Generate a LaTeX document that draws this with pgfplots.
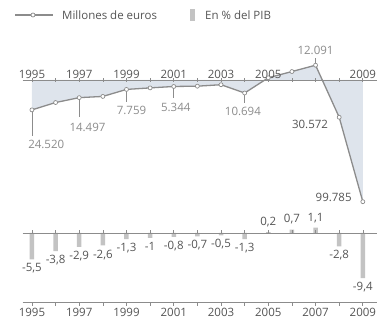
\documentclass[border=0pt]{standalone}
\usepackage{pgfplots}
\pgfplotsset{compat=1.18}
\usepackage{fontspec}
\setmainfont{Open Sans}
\definecolor{txt}{RGB}{85,85,85}
\definecolor{linec}{RGB}{140,140,140}
\definecolor{areac}{RGB}{222,228,236}
\definecolor{barc}{RGB}{195,195,195}
\newcommand{\lf}{\fontsize{11.5bp}{13bp}\selectfont}
\begin{document}
\begin{tikzpicture}[font=\lf, text=txt]
\useasboundingbox (0,0) rectangle (377bp,318bp);
% legend
\draw[linec, line width=1.2bp] (15bp,303bp) -- (53bp,303bp);
\draw[linec, fill=white, line width=0.7bp] (33bp,303bp) circle (2bp);
\node[anchor=west, inner sep=0] at (62bp,303bp) {Millones de euros};
\fill[barc] (190bp,297bp) rectangle (195bp,309bp);
\node[anchor=west, inner sep=0] at (205bp,303bp) {En \% del PIB};

\begin{axis}[at={(22.5bp,113.6bp)}, anchor=south west, scale only axis,
  width=354.5bp, height=161.04bp,
  xmin=1994.6, xmax=2009.6, ymin=-102000, ymax=30000,
  axis x line*=middle, axis y line=none,
  axis line style={linec, line width=0.8bp},
  xtick={1995,1996,1997,1998,1999,2000,2001,2002,2003,2004,2005,2006,2007,2008,2009},
  xticklabels={1995,,1997,,1999,,2001,,2003,,2005,,,,2009},
  xticklabel style={anchor=south, text=txt, font=\lf},
  tick align=center, major tick length=4bp, tick style={linec, line width=0.7bp},
  axis on top, clip=false]
\addplot[fill=areac, draw=none] table {
x y
1995 -24520
1996 -18500
1997 -14497
1998 -13500
1999 -7759
2000 -6500
2001 -5344
2002 -5100
2003 -3900
2004 -10694
2005 1800
2006 6900
2007 12091
2008 -30572
2009 -99785
} \closedcycle;
\addplot[linec, line width=1.3bp, mark=*, mark size=2bp,
  mark options={fill=white, draw=linec, line width=0.7bp}] table {
x y
1995 -24520
1996 -18500
1997 -14497
1998 -13500
1999 -7759
2000 -6500
2001 -5344
2002 -5100
2003 -3900
2004 -10694
2005 1800
2006 6900
2007 12091
2008 -30572
2009 -99785
};
\draw[linec, line width=0.6bp] (axis cs:1995,-24520) -- ++(0pt,-26bp)
  node[anchor=north west, inner sep=0pt, xshift=-4bp, yshift=-4bp] {24.520};
\draw[linec, line width=0.6bp] (axis cs:1997,-14497) -- ++(0pt,-19bp)
  node[anchor=north west, inner sep=0pt, xshift=-10bp, yshift=-6bp] {14.497};
\draw[linec, line width=0.6bp] (axis cs:1999,-7759) -- ++(0pt,-13bp)
  node[anchor=north west, inner sep=0pt, xshift=-10bp, yshift=-3bp] {7.759};
\draw[linec, line width=0.6bp] (axis cs:2001,-5344) -- ++(0pt,-12bp)
  node[anchor=north west, inner sep=0pt, xshift=-13bp, yshift=-4bp] {5.344};
\draw[linec, line width=0.6bp] (axis cs:2004,-10694) -- ++(0pt,-10bp)
  node[anchor=north west, inner sep=0pt, xshift=-20bp, yshift=-4bp] {10.694};
\draw[linec, line width=0.6bp] (axis cs:2007,12091) -- ++(0pt,7bp)
  node[anchor=south, inner sep=0pt, yshift=3bp] {12.091};
\node[anchor=east, inner sep=0pt] at ([xshift=-11bp,yshift=-7bp]axis cs:2008,-30572) {30.572};
\node[anchor=east, inner sep=0pt] at ([xshift=-11bp,yshift=4bp]axis cs:2009,-99785) {99.785};
\end{axis}

\begin{axis}[at={(22.5bp,16bp)}, anchor=south west, scale only axis,
  width=354.5bp, height=83.4bp,
  xmin=1994.6, xmax=2009.6, ymin=-14.375, ymax=3,
  axis x line*=bottom, axis y line=none,
  axis line style={linec, line width=0.8bp},
  xtick={1995,1996,1997,1998,1999,2000,2001,2002,2003,2004,2005,2006,2007,2008,2009},
  xticklabels={1995,,1997,,1999,,2001,,2003,,2005,,2007,,2009},
  xticklabel style={text=txt, font=\lf, inner sep=1.5bp},
  tick align=inside, major tick length=4bp, tick style={linec, line width=0.7bp},
  ybar, bar width=4.5bp, bar shift=0pt, clip=false,
  nodes near coords, point meta=explicit symbolic]
\addplot[fill=barc, draw=none,
  every node near coord/.style={anchor=north, font=\lf, text=txt, inner sep=0pt, yshift=-4bp}]
  table[meta=label] {
x y label
1995 -5.5 -5,5
1996 -3.8 -3,8
1997 -2.9 -2,9
1998 -2.6 -2,6
1999 -1.3 -1,3
2000 -1.0 -1
2001 -0.8 -0,8
2002 -0.7 -0,7
2003 -0.5 -0,5
2004 -1.3 -1,3
2008 -2.8 -2,8
2009 -9.4 -9,4
};
\addplot[fill=barc, draw=none,
  every node near coord/.style={anchor=south, font=\lf, text=txt, inner sep=0pt, yshift=5bp}]
  table[meta=label] {
x y label
2005 0.2 0,2
2006 0.7 0,7
2007 1.1 1,1
};
\draw[linec, line width=0.8bp] (axis cs:1994.6,0) -- (axis cs:2009.6,0);
\pgfplotsinvokeforeach{1995,1996,1997,1998,1999,2000,2001,2002,2003,2004,2005,2006,2007,2008,2009}{
  \draw[linec, line width=0.6bp] (axis cs:#1,0) -- ++(0pt,2.5bp);
}
\end{axis}
\end{tikzpicture}
\end{document}
